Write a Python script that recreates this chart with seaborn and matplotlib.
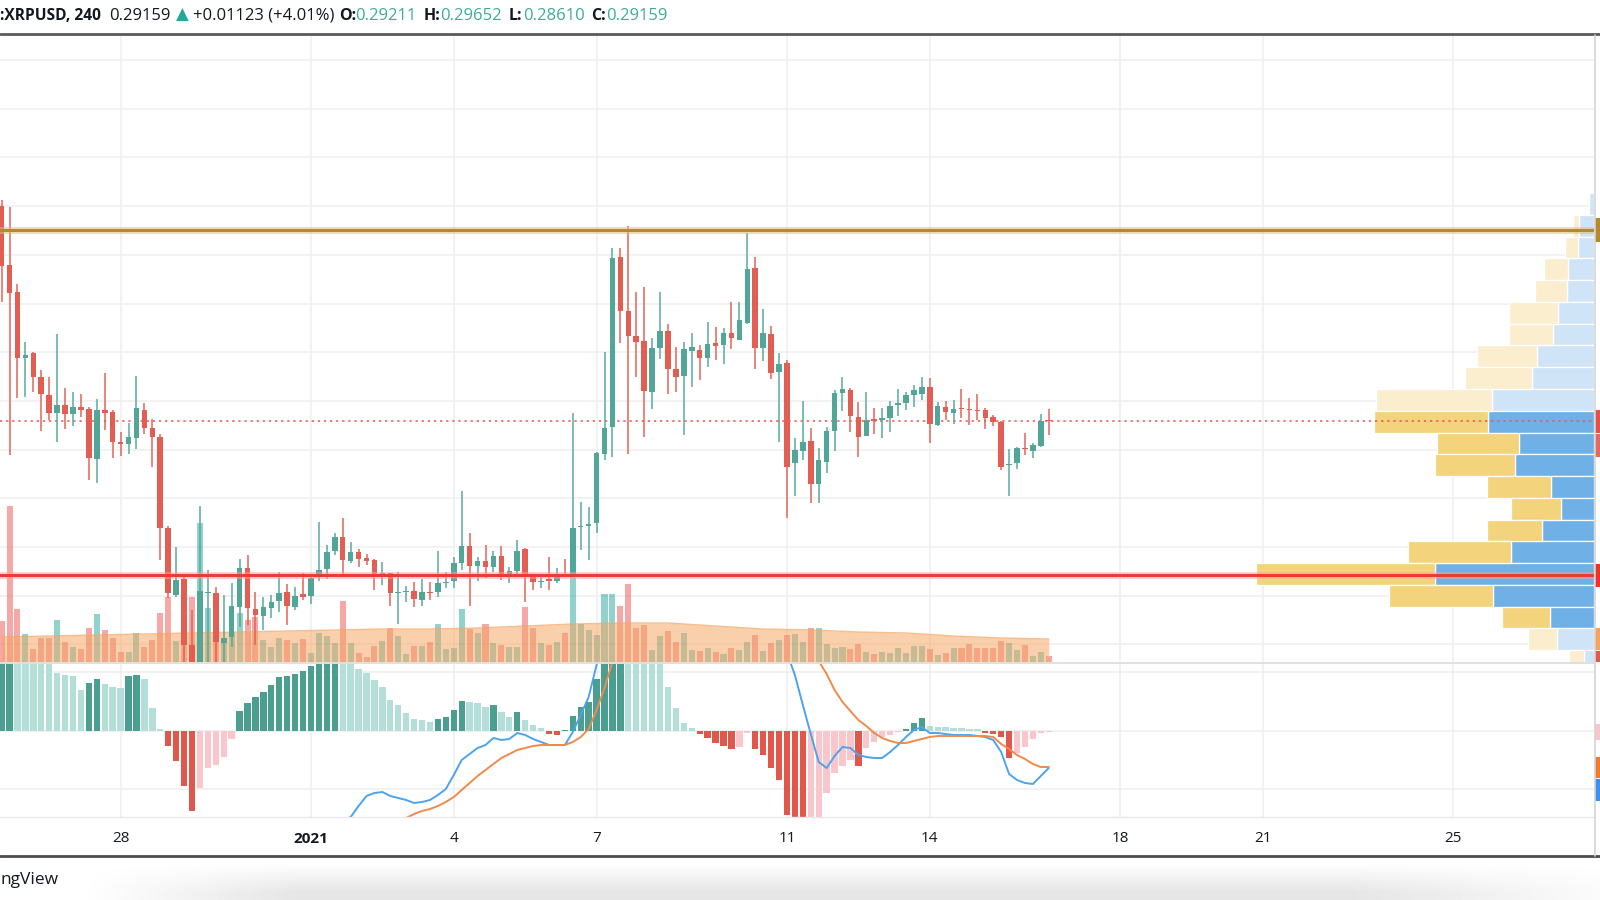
import numpy as np
import matplotlib
matplotlib.use("Agg")
import matplotlib.pyplot as plt
import seaborn as sns
from matplotlib.transforms import blended_transform_factory
from matplotlib.patches import Rectangle
from matplotlib.lines import Line2D

# ---------------- DATA ----------------
header_symbol = ":XRPUSD, 240"
header_last = "0.29159"
header_change = "+0.01123 (+4.01%)"
header_keys = ["O:", "H:", "L:", "C:"]
header_vals = ["0.29211", "0.29652", "0.28610", "0.29159"]
footer_text = "ngView"

opens = [0.3801, 0.3559, 0.3448, 0.3177, 0.3197, 0.3099, 0.3025, 0.2951, 0.2984, 0.2947,
         0.2975, 0.2967, 0.2762, 0.2963, 0.2955, 0.2832, 0.2823, 0.2848, 0.2963, 0.2889,
         0.2852, 0.2478, 0.2203, 0.2269, 0.1998, 0.1903, 0.2211, 0.2211, 0.2006, 0.2031,
         0.2154, 0.2314, 0.2146, 0.2117, 0.2150, 0.2179, 0.2216, 0.2154, 0.2207, 0.2199,
         0.2285, 0.2310, 0.2384, 0.2441, 0.2343, 0.2380, 0.2355, 0.2347, 0.2285, 0.2294,
         0.2211, 0.2216, 0.2220, 0.2183, 0.2216, 0.2216, 0.2253, 0.2261, 0.2335, 0.2405,
         0.2322, 0.2343, 0.2318, 0.2363, 0.2285, 0.2302, 0.2392, 0.2277, 0.2257, 0.2269,
         0.2261, 0.2285, 0.2281, 0.2483, 0.2487, 0.2499, 0.2782, 0.2893, 0.3591, 0.3370,
         0.3267, 0.3246, 0.3037, 0.3218, 0.3287, 0.3131, 0.3103, 0.3205, 0.3209, 0.3177,
         0.3238, 0.3230, 0.3279, 0.3251, 0.3320, 0.3546, 0.3218, 0.3275, 0.3119, 0.3156,
         0.2745, 0.2795, 0.2836, 0.2659, 0.2750, 0.2877, 0.3033, 0.3045, 0.2934, 0.2856,
         0.2926, 0.2922, 0.2930, 0.2984, 0.2992, 0.3025, 0.3029, 0.3057, 0.2901, 0.2975,
         0.2951, 0.2971, 0.2967, 0.2963, 0.2963, 0.2934, 0.2914, 0.2737, 0.2745, 0.2807,
         0.2795, 0.2815, 0.29211]
highs = [0.3825, 0.3797, 0.3480, 0.3242, 0.3201, 0.3127, 0.3099, 0.3275, 0.3053, 0.3037,
         0.3029, 0.2975, 0.3008, 0.3115, 0.2963, 0.2873, 0.2910, 0.3103, 0.2992, 0.2926,
         0.2864, 0.2487, 0.2400, 0.2285, 0.2142, 0.2569, 0.2306, 0.2236, 0.2203, 0.2253,
         0.2351, 0.2368, 0.2216, 0.2195, 0.2203, 0.2298, 0.2248, 0.2236, 0.2294, 0.2277,
         0.2503, 0.2409, 0.2458, 0.2520, 0.2421, 0.2392, 0.2372, 0.2351, 0.2339, 0.2294,
         0.2298, 0.2240, 0.2257, 0.2269, 0.2257, 0.2384, 0.2298, 0.2359, 0.2630, 0.2458,
         0.2359, 0.2409, 0.2384, 0.2405, 0.2318, 0.2429, 0.2396, 0.2285, 0.2277, 0.2359,
         0.2314, 0.2351, 0.2951, 0.2585, 0.2565, 0.2791, 0.3201, 0.3628, 0.3628, 0.3719,
         0.3448, 0.3468, 0.3259, 0.3448, 0.3316, 0.3222, 0.3242, 0.3279, 0.3230, 0.3324,
         0.3304, 0.3300, 0.3407, 0.3407, 0.3690, 0.3591, 0.3378, 0.3308, 0.3197, 0.3168,
         0.2848, 0.3000, 0.2889, 0.2807, 0.2893, 0.3045, 0.3099, 0.3053, 0.2996, 0.3037,
         0.2971, 0.2971, 0.3000, 0.3049, 0.3037, 0.3066, 0.3099, 0.3094, 0.2996, 0.3000,
         0.3004, 0.3049, 0.3012, 0.3029, 0.2971, 0.2943, 0.2918, 0.2803, 0.2811, 0.2869,
         0.2828, 0.2947, 0.29652]
lows = [0.3407, 0.2778, 0.3012, 0.3016, 0.3037, 0.2877, 0.2922, 0.2832, 0.2885, 0.2897,
        0.2934, 0.2676, 0.2663, 0.2881, 0.2766, 0.2774, 0.2782, 0.2803, 0.2864, 0.2729,
        0.2347, 0.2191, 0.2195, 0.1850, 0.1800, 0.1800, 0.1900, 0.1860, 0.1903, 0.1990,
        0.2072, 0.2080, 0.1998, 0.2060, 0.2109, 0.2134, 0.2080, 0.2142, 0.2183, 0.2166,
        0.2261, 0.2269, 0.2368, 0.2285, 0.2335, 0.2318, 0.2327, 0.2224, 0.2244, 0.2158,
        0.2084, 0.2175, 0.2154, 0.2158, 0.2183, 0.2195, 0.2232, 0.2232, 0.2306, 0.2158,
        0.2261, 0.2273, 0.2298, 0.2265, 0.2253, 0.2285, 0.2175, 0.2224, 0.2232, 0.2224,
        0.2253, 0.2277, 0.2277, 0.2388, 0.2347, 0.2458, 0.2758, 0.2770, 0.3238, 0.2782,
        0.3099, 0.2852, 0.2967, 0.3172, 0.3029, 0.3037, 0.2860, 0.3057, 0.3086, 0.3140,
        0.3168, 0.3152, 0.3214, 0.3251, 0.3316, 0.3131, 0.3164, 0.3090, 0.2832, 0.2520,
        0.2610, 0.2758, 0.2581, 0.2581, 0.2704, 0.2795, 0.2959, 0.2873, 0.2770, 0.2856,
        0.2864, 0.2848, 0.2873, 0.2938, 0.2963, 0.2975, 0.3004, 0.2828, 0.2897, 0.2922,
        0.2906, 0.2930, 0.2901, 0.2922, 0.2885, 0.2897, 0.2717, 0.2610, 0.2721, 0.2778,
        0.2766, 0.2811, 0.28610]
closes = [0.3554, 0.3444, 0.3177, 0.3189, 0.3099, 0.3029, 0.2951, 0.2984, 0.2947, 0.2975,
          0.2963, 0.2766, 0.2963, 0.2951, 0.2832, 0.2823, 0.2852, 0.2971, 0.2889, 0.2852,
          0.2478, 0.2211, 0.2265, 0.1998, 0.1903, 0.2220, 0.2216, 0.2010, 0.2027, 0.2158,
          0.2314, 0.2150, 0.2121, 0.2154, 0.2175, 0.2211, 0.2158, 0.2199, 0.2195, 0.2273,
          0.2306, 0.2380, 0.2441, 0.2347, 0.2380, 0.2351, 0.2343, 0.2290, 0.2294, 0.2211,
          0.2216, 0.2220, 0.2187, 0.2216, 0.2211, 0.2253, 0.2257, 0.2335, 0.2405, 0.2322,
          0.2343, 0.2318, 0.2363, 0.2285, 0.2302, 0.2384, 0.2277, 0.2257, 0.2261, 0.2261,
          0.2277, 0.2281, 0.2478, 0.2487, 0.2495, 0.2786, 0.2889, 0.3587, 0.3370, 0.3267,
          0.3242, 0.3041, 0.3218, 0.3287, 0.3131, 0.3099, 0.3214, 0.3222, 0.3177, 0.3234,
          0.3226, 0.3279, 0.3259, 0.3333, 0.3542, 0.3218, 0.3279, 0.3115, 0.3152, 0.2729,
          0.2799, 0.2832, 0.2659, 0.2758, 0.2877, 0.3033, 0.3049, 0.2938, 0.2852, 0.2922,
          0.2918, 0.2930, 0.2979, 0.2992, 0.3025, 0.3045, 0.3057, 0.2906, 0.2979, 0.2955,
          0.2967, 0.2967, 0.2963, 0.2959, 0.2930, 0.2914, 0.2729, 0.2741, 0.2807, 0.2803,
          0.2819, 0.2918, 0.29159]
volumes = [61.5, 234, 79.5, 42, 19.5, 36, 36, 63, 30, 22.5,
           19.5, 51, 72, 48, 36, 15, 15, 43.5, 22.5, 33,
           73.5, 97.5, 31.5, 43.5, 97.5, 208.5, 81, 45, 30, 45,
           73.5, 63, 67.5, 33, 22.5, 36, 33, 28.5, 34.5, 13.5,
           43.5, 39, 28.5, 91.5, 28.5, 13.5, 7.5, 24, 31.5, 51,
           39, 12, 24, 24, 30, 57, 19.5, 21, 79.5, 49.5,
           43.5, 57, 28.5, 25.5, 22.5, 22.5, 82.5, 51, 28.5, 25.5,
           30, 43.5, 129, 57, 48, 40.5, 102, 102, 84, 117,
           51, 55.5, 18, 39, 46.5, 30, 43.5, 18, 16.5, 21,
           15, 12, 21, 18, 30, 40.5, 16.5, 28.5, 33, 40.5,
           42, 30, 51, 51, 27, 21, 22.5, 19.5, 27, 15,
           12, 15, 13.5, 21, 13.5, 24, 24, 19.5, 10.5, 13.5,
           21, 21, 27, 21, 21, 21, 31.5, 28.5, 18, 25.5,
           9, 15, 9]
# volume moving average sampled once per day (every 6th 4h candle)
vol_ma_candles = list(range(0, 133, 6))
vol_ma = [37.5, 39, 40.5, 42, 43.5, 45, 46.5, 48, 49.5, 49.5, 51, 54, 57, 58.5, 58.5,
          54, 49.5, 48, 45, 43.5, 39, 36, 34.5]

macd_hist = [0.0095, 0.0098, 0.0094, 0.0090, 0.0086, 0.0080, 0.0072, 0.0058, 0.0056, 0.0055,
             0.0041, 0.0048, 0.0052, 0.0047, 0.0044, 0.0043, 0.0055, 0.0056, 0.0052, 0.0023,
             0.0002, -0.0015, -0.0030, -0.0055, -0.0080, -0.0057, -0.0037, -0.0034, -0.0026, -0.0008,
             0.0020, 0.0028, 0.0034, 0.0039, 0.0046, 0.0054, 0.0055, 0.0057, 0.0060, 0.0065,
             0.0072, 0.0078, 0.0081, 0.0076, 0.0070, 0.0062, 0.0058, 0.0051, 0.0044, 0.0031,
             0.0026, 0.0018, 0.0012, 0.0011, 0.0009, 0.0012, 0.0014, 0.0021, 0.0030, 0.0029,
             0.0028, 0.0024, 0.0026, 0.0019, 0.0014, 0.0019, 0.0011, 0.0006, 0.0003, -0.0003,
             -0.0004, 0.0001, 0.0015, 0.0024, 0.0029, 0.0052, 0.0085, 0.0110, 0.0120, 0.0115,
             0.0105, 0.0095, 0.0085, 0.0072, 0.0044, 0.0023, 0.0008, 0.0003, -0.0003, -0.0007,
             -0.0012, -0.0015, -0.0018, -0.0016, -0.0002, -0.0018, -0.0024, -0.0037, -0.0049, -0.0084,
             -0.0095, -0.0100, -0.0096, -0.0090, -0.0062, -0.0042, -0.0035, -0.0029, -0.0035, -0.0017,
             -0.0011, -0.0006, -0.0004, -0.0001, 0.0002, 0.0008, 0.0013, 0.0005, 0.00045, 0.0004,
             0.00035, 0.0003, 0.00025, 0.0002, -0.0002, -0.0003, -0.0006, -0.0027, -0.0022, -0.0016,
             -0.0008, -0.0002, -0.0001]
macd_line = [-0.0185, -0.0178, -0.0172, -0.0166, -0.0161, -0.0157, -0.0154, -0.0150, -0.0148, -0.0146,
             -0.0147, -0.0143, -0.0139, -0.0137, -0.0136, -0.0135, -0.0130, -0.0126, -0.0125, -0.0132,
             -0.0148, -0.0165, -0.0186, -0.0212, -0.0218, -0.0210, -0.0204, -0.0203, -0.0199, -0.0192,
             -0.0181, -0.0172, -0.0163, -0.0155, -0.0146, -0.0137, -0.0130, -0.0123, -0.0117, -0.0110,
             -0.0103, -0.0097, -0.0092, -0.0090, -0.0086, -0.0075, -0.0065, -0.0062, -0.0061, -0.0065,
             -0.0067, -0.0069, -0.0072, -0.0071, -0.0069, -0.0064, -0.0058, -0.0044, -0.0029, -0.0023,
             -0.0017, -0.0014, -0.0007, -0.0009, -0.0008, -0.0002, -0.0004, -0.0008, -0.0011, -0.0014,
             -0.0014, -0.0014, -0.0001, 0.0016, 0.0034, 0.0066, 0.0110, 0.0170, 0.0200, 0.0215,
             0.0222, 0.0220, 0.0218, 0.0214, 0.0205, 0.0196, 0.0188, 0.0180, 0.0172, 0.0165,
             0.0157, 0.0150, 0.0142, 0.0140, 0.0136, 0.0130, 0.0125, 0.0112, 0.0100, 0.0078,
             0.0056, 0.0026, -0.0003, -0.0031, -0.0037, -0.0025, -0.0016, -0.0017, -0.0024, -0.0026,
             -0.0027, -0.0027, -0.0021, -0.0014, -0.0006, 0.0001, 0.0004, -0.0002, -0.0002, -0.0003,
             -0.0004, -0.0004, -0.0004, -0.0005, -0.0006, -0.0009, -0.0021, -0.0043, -0.0049, -0.0052,
             -0.0053, -0.0045, -0.0037]
signal_line = [-0.0280, -0.0272, -0.0264, -0.0256, -0.0248, -0.0240, -0.0233, -0.0226, -0.0219, -0.0213,
               -0.0207, -0.0201, -0.0196, -0.0191, -0.0186, -0.0182, -0.0178, -0.0174, -0.0170, -0.0166,
               -0.0163, -0.0162, -0.0163, -0.0166, -0.0170, -0.0175, -0.0178, -0.0181, -0.0183, -0.0185,
               -0.0186, -0.0185, -0.0184, -0.0182, -0.0180, -0.0177, -0.0174, -0.0170, -0.0166, -0.0162,
               -0.0158, -0.0153, -0.0148, -0.0143, -0.0137, -0.0131, -0.0125, -0.0118, -0.0110, -0.0102,
               -0.0094, -0.0087, -0.0083, -0.0080, -0.0078, -0.0075, -0.0071, -0.0066, -0.0059, -0.0052,
               -0.0045, -0.0039, -0.0033, -0.0027, -0.0023, -0.0019, -0.0017, -0.0015, -0.0014, -0.0014,
               -0.0014, -0.0014, -0.0011, -0.0006, 0.0002, 0.0021, 0.0043, 0.0069, 0.0095, 0.0118,
               0.0135, 0.0150, 0.0162, 0.0170, 0.0176, 0.0180, 0.0182, 0.0182, 0.0181, 0.0179,
               0.0176, 0.0172, 0.0168, 0.0164, 0.0160, 0.0155, 0.0150, 0.0144, 0.0137, 0.0128,
               0.0111, 0.0091, 0.0079, 0.0070, 0.0057, 0.0041, 0.0029, 0.0020, 0.0011, 0.0005,
               -0.0002, -0.0007, -0.0010, -0.0012, -0.0012, -0.0010, -0.0008, -0.0006, -0.0005, -0.0005,
               -0.0005, -0.0005, -0.0005, -0.0005, -0.0005, -0.0006, -0.0013, -0.0018, -0.0024, -0.0028,
               -0.0033, -0.0036, -0.0036]

date_tick_candles = [15, 39, 57, 75, 99, 117, 141, 159, 183]
date_tick_labels = ["28", "2021", "4", "7", "11", "14", "18", "21", "25"]

resistance_level = 0.3702
support_level = 0.2285
last_price = 0.29159

# visible-range volume profile, rows listed from top (high price) to bottom
vp_up = [15, 45, 48, 78, 81, 108, 123, 171, 186, 306, 318, 225, 237, 129, 99, 156, 249, 477, 303, 132, 111, 30]
vp_down = [3, 18, 39, 72, 96, 147, 132, 180, 201, 348, 342, 246, 240, 192, 150, 165, 309, 537, 312, 144, 87, 45]
vp_price_high, vp_price_low = 0.3854, 0.1887
value_area_high, value_area_low = 0.2960, 0.2066

# ---------------- STYLE / LAYOUT ----------------
sns.set_theme(style="white")
plt.rcParams["font.family"] = ["Open Sans", "DejaVu Sans"]
plt.rcParams["axes.unicode_minus"] = False

W, H = 1600, 900
fig = plt.figure(figsize=(16, 9), dpi=100, facecolor="white")


def fy(py):
    return 1 - py / H


PANE_RIGHT = 1594
P_TOP, P_BOT = 35, 662
M_TOP, M_BOT = 663, 817
X0, STEP = 1.6, 7.933
xlim = ((0 - X0) / STEP, (PANE_RIGHT - X0) / STEP)
price_lim = (0.1928, 0.4503)
macd_lim = (-0.0086, 0.0068)
vol_lim = (0, 940.5)
vp_xmax = 4782

TEAL = "#52a698"
RED = "#e25d52"
DARK = "#131722"

rect_p = [0, fy(P_BOT), PANE_RIGHT / W, (P_BOT - P_TOP) / H]
rect_m = [0, fy(M_BOT), PANE_RIGHT / W, (M_BOT - M_TOP) / H]

ax_p = fig.add_axes(rect_p)
ax_v = fig.add_axes(rect_p, sharex=ax_p)
ax_vp = fig.add_axes(rect_p, sharey=ax_p)
ax_c = fig.add_axes(rect_p, sharex=ax_p, sharey=ax_p)
ax_m = fig.add_axes(rect_m, sharex=ax_p)
ax_p.set_zorder(0)
ax_v.set_zorder(1)
ax_vp.set_zorder(2)
ax_c.set_zorder(3)
ax_m.set_zorder(0)

for a in (ax_p, ax_v, ax_vp, ax_c, ax_m):
    for s in a.spines.values():
        s.set_visible(False)
for a in (ax_v, ax_vp, ax_c):
    a.patch.set_visible(False)

idx = np.arange(len(opens))
o = np.array(opens); h = np.array(highs); l = np.array(lows); c = np.array(closes)
up = c >= o

# background grid
ax_p.set_xticks(date_tick_candles)
ax_p.set_yticks(np.arange(0.20, 0.45, 0.02))
ax_p.grid(True, color="#efefef", lw=1.1)

# volume + MA
vcol = np.where(up, "#26a69a", "#ef5350")
ax_v.bar(idx, volumes, width=0.76, color=vcol, alpha=0.5, lw=0)
ax_v.fill_between(vol_ma_candles, 0, vol_ma, color="#f4a460", alpha=0.52, lw=0)
ax_v.plot(vol_ma_candles, vol_ma, color="#f4a460", lw=1, alpha=0.7)
ax_v.set_ylim(vol_lim)

# volume profile
edges = np.linspace(vp_price_high, vp_price_low, len(vp_up) + 1)
centers = (edges[:-1] + edges[1:]) / 2
rowh = abs(edges[0] - edges[1])
in_va = (centers <= value_area_high) & (centers >= value_area_low)
up_col = np.where(in_va, "#6fb0e6", "#cfe4f6")
dn_col = np.where(in_va, "#f3d37c", "#fbeecf")
ax_vp.barh(centers, vp_up, height=rowh, color=up_col, edgecolor="white", lw=0.9)
ax_vp.barh(centers, vp_down, left=vp_up, height=rowh, color=dn_col, edgecolor="white", lw=0.9)
ax_vp.set_xlim(vp_xmax, 0)

# candles and levels
ax_c.axhline(last_price, color="#ef5350", lw=1.1, ls=(0, (1.5, 2.5)), zorder=1)
col = np.where(up, TEAL, RED)
ax_c.vlines(idx, l, h, colors=col, lw=1.4, alpha=0.75, zorder=2)
body_bottom = np.minimum(o, c)
body_h = np.maximum(np.abs(c - o), 0.0004)
ax_c.bar(idx, body_h, bottom=body_bottom, width=0.7, color=col, lw=0, zorder=3)
ax_c.axhline(resistance_level, color="#dcc27e", lw=5, alpha=0.55, zorder=4)
ax_c.axhline(resistance_level, color="#b48a2c", lw=2.2, zorder=5)
ax_c.axhline(support_level, color="#f7a39c", lw=5, alpha=0.5, zorder=4)
ax_c.axhline(support_level, color="#ef3a2f", lw=2.2, zorder=5)

# MACD pane
hist = np.array(macd_hist)
prev = np.r_[hist[0], hist[:-1]]
hcol = np.where(hist >= 0,
                np.where(hist >= prev, "#4a9f91", "#b4ded8"),
                np.where(hist <= prev, "#e2574c", "#f8c6cb"))
ax_m.bar(idx, hist, width=0.8, color=hcol, lw=0)
sns.lineplot(x=idx, y=macd_line, ax=ax_m, color="#4da3ee", lw=1.4)
sns.lineplot(x=idx, y=signal_line, ax=ax_m, color="#f08a4b", lw=1.4)
ax_m.set_yticks([-0.0058, 0, 0.0059])
ax_m.grid(True, color="#ededed", lw=1.1)
ax_m.set_xlabel("")
ax_m.set_ylabel("")

for a in (ax_p, ax_v, ax_vp, ax_c, ax_m):
    a.tick_params(left=False, bottom=False, top=False, right=False,
                  labelleft=False, labelbottom=False, labeltop=False, labelright=False)

ax_p.set_xlim(xlim)
ax_p.set_ylim(price_lim)
ax_m.set_ylim(macd_lim)

# right-edge price-scale tags (cut off by the screenshot)
ppx = (price_lim[1] - price_lim[0]) / (P_BOT - P_TOP)
mpx = (macd_lim[1] - macd_lim[0]) / (M_BOT - M_TOP)
vpx = (vol_lim[1] - vol_lim[0]) / (P_BOT - P_TOP)
tag_x = 1.0 + 1.0 / PANE_RIGHT
tag_w = 8.0 / PANE_RIGHT


def tag(ax, y0, y1, color):
    tr = blended_transform_factory(ax.transAxes, ax.transData)
    ax.add_patch(Rectangle((tag_x, y0), tag_w, y1 - y0, transform=tr, color=color,
                           clip_on=False, lw=0, zorder=10))


tag(ax_c, resistance_level - 12 * ppx, resistance_level + 12 * ppx, "#b48a2c")
tag(ax_c, last_price - 11.5 * ppx, last_price + 11.5 * ppx, "#e0524a")
tag(ax_c, last_price - 36 * ppx, last_price - 13 * ppx, "#e26a62")
tag(ax_c, support_level - 11.5 * ppx, support_level + 11.5 * ppx, "#f0302a")
tag(ax_v, vol_ma[-1] - 11 * vpx, vol_ma[-1] + 11 * vpx, "#f4a460")
tag(ax_v, 0, vol_ma[-1] - 12 * vpx, "#e05a52")
tag(ax_m, macd_hist[-1] - 8 * mpx, macd_hist[-1] + 8 * mpx, "#f8c6cb")
tag(ax_m, signal_line[-1] - 10.5 * mpx, signal_line[-1] + 10.5 * mpx, "#f07a30")
tag(ax_m, signal_line[-1] - 34 * mpx, signal_line[-1] - 12 * mpx, "#3d8ff0")


# frame lines
def fline(xs, ys, color, lw):
    fig.add_artist(Line2D([x / W for x in xs], [fy(y) for y in ys], color=color, lw=lw,
                          transform=fig.transFigure, zorder=20))


fline([0, 1600], [34, 34], "#595959", 2.0)
fline([0, 1600], [856, 856], "#4d4d4d", 2.0)
fline([0, PANE_RIGHT], [662.5, 662.5], "#e0e0e0", 1.4)
fline([0, PANE_RIGHT], [817, 817], "#e8e8e8", 1.0)
fline([PANE_RIGHT + 0.5, PANE_RIGHT + 0.5], [35, 856], "#d4d4d4", 1.2)

# bottom shadow strip
ax_bot = fig.add_axes([0, 0, 1, 43 / H])
ax_bot.axis("off")
ax_bot.set_zorder(-1)
yy = np.linspace(0, 1, 43)[:, None]
xx = np.linspace(0, 1600, 800)[None, :]
shade = (np.clip((yy * 43 - 6) / 30, 0, 1)
         * np.clip((xx - 80) / 220, 0, 1)
         * np.clip((1650 - xx) / 300, 0, 1))
ax_bot.imshow(1 - 0.10 * shade, cmap="gray", vmin=0, vmax=1, aspect="auto",
              extent=(0, 1600, 43, 0), interpolation="bilinear")

# date labels
trans = blended_transform_factory(ax_m.transData, fig.transFigure)
for t, lab in zip(date_tick_candles, date_tick_labels):
    fig.text(t, fy(839), lab, transform=trans, ha="center", va="center", fontsize=11,
             color=DARK, fontweight="bold" if lab == "2021" else "normal")

# header
HDR_Y = fy(15.5)
TXT_TEAL = "#3fab9c"
segments = [
    (0, header_symbol, "bold", DARK, 11.2),
    (109, header_last, "normal", DARK, 12),
    (176, "\u25B2", "normal", "#26a69a", 12),
    (193, header_change, "normal", DARK, 12),
]
key_x = [339, 424, 509, 591]
val_x = [355, 440, 523, 606]
for kx, vx, k, v in zip(key_x, val_x, header_keys, header_vals):
    segments.append((kx, k, "bold", DARK, 11.5))
    segments.append((vx, v, "normal", TXT_TEAL, 12))
for x, s, wgt, colr, fs in segments:
    fig.text(x / W, HDR_Y, s, ha="left", va="center", fontsize=fs, fontweight=wgt, color=colr,
             family=["Open Sans", "DejaVu Sans"])

fig.text(0, fy(880), footer_text, ha="left", va="center", fontsize=12.5, color=DARK)

fig.savefig("out.png", dpi=100, facecolor="white")
